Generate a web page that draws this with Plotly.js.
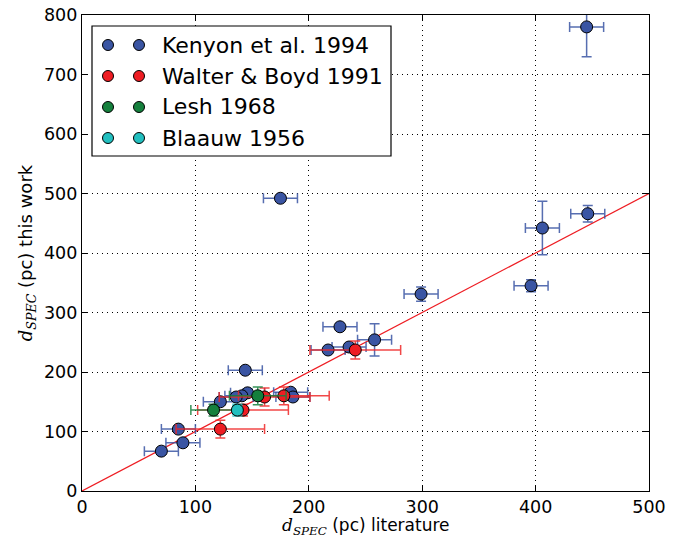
<!DOCTYPE html>
<html>
<head>
<meta charset="utf-8">
<script src="https://cdn.plot.ly/plotly-3.0.1.min.js"></script>
<style>html,body{margin:0;padding:0;background:#fff;}#chart{width:686px;height:538px;}</style>
</head>
<body>
<div id="chart"></div>
<script>
// Kenyon et al. 1994
const kenyonX    = [445, 175, 446, 406, 396, 299, 227.5, 258, 235.5, 217, 144, 184, 186, 146, 141, 136, 122, 85, 89, 70];
const kenyonY    = [780, 492, 466, 442, 345, 331, 276, 254, 242, 237, 203, 166, 158, 165, 160, 158, 150, 104, 81, 67];
const kenyonXerr = [15, 15, 15, 15, 15, 15, 15, 15, 15, 15, 15, 15, 15, 15, 15, 15, 15, 15, 15, 15];
const kenyonYerr = [50, 4, 14, 45, 10, 12, 4, 27, 5, 5, 5, 6, 6, 7, 6, 6, 5, 5, 5, 5];
// Walter & Boyd 1991
const walterX    = [122, 142, 161, 178, 241];
const walterY    = [104, 136, 158, 160, 237];
const walterXerr = [39, 40, 40, 40, 40];
const walterYerr = [15, 10, 15, 15, 15];
// Lesh 1968
const leshX    = [116, 155];
const leshY    = [136, 160];
const leshXerr = [20, 25];
const leshYerr = [10, 15];
// Blaauw 1956
const blaauwX    = [137];
const blaauwY    = [136];
const blaauwXerr = [4];
const blaauwYerr = [10];
// one-to-one line
const lineX = [0, 500];
const lineY = [0, 500];
// tick labels
const xTicks = [0, 100, 200, 300, 400, 500];
const yTicks = [0, 100, 200, 300, 400, 500, 600, 700, 800];
const xTitle = '<span style="font-family:DejaVu Serif"><i>d</i><sub><i>SPEC</i></sub></span> (pc) literature';
const yTitle = '<span style="font-family:DejaVu Serif"><i>d</i><sub><i>SPEC</i></sub></span> (pc) this work';

const seriesNames  = ['Kenyon et al. 1994', 'Walter & Boyd 1991', 'Lesh 1968', 'Blaauw 1956'];
const seriesColors = ['#3a55a3', '#ee1d23', '#15803d', '#22bfbf'];
const errColors    = ['rgba(58,85,163,0.85)', 'rgba(238,40,40,0.85)', 'rgba(21,128,61,0.85)', 'rgba(34,191,191,0.85)'];

function series(i, x, y, xe, ye) {
  return {
    type: 'scatter', mode: 'markers', name: seriesNames[i], x: x, y: y,
    marker: {color: seriesColors[i], size: 12, line: {color: '#000', width: 1}},
    error_x: {type: 'data', array: xe, color: errColors[i], thickness: 1.5, width: 5},
    error_y: {type: 'data', array: ye, color: errColors[i], thickness: 1.5, width: 5},
    showlegend: false, cliponaxis: true
  };
}

const traces = [
  {type: 'scatter', mode: 'lines', x: lineX, y: lineY, line: {color: '#ee1d23', width: 1.2}, showlegend: false, hoverinfo: 'skip'},
  series(0, kenyonX, kenyonY, kenyonXerr, kenyonYerr),
  series(1, walterX, walterY, walterXerr, walterYerr),
  series(2, leshX, leshY, leshXerr, leshYerr),
  series(3, blaauwX, blaauwY, blaauwXerr, blaauwYerr)
];

// custom legend (two markers per entry, like the reference)
const plotW = 567, plotH = 476;
const toPX = px => (px - 82) / plotW;
const toPY = py => (491 - py) / plotH;
const shapes = [{
  type: 'rect', xref: 'paper', yref: 'paper', layer: 'above',
  x0: toPX(92), x1: toPX(391), y0: toPY(156), y1: toPY(26),
  fillcolor: '#fff', line: {color: '#000', width: 1.2}
}];
const annotations = [];
const rowPY = [45, 76, 107, 138];
const r = 5.5;
seriesNames.forEach((name, i) => {
  [108, 139].forEach(cx => {
    shapes.push({
      type: 'circle', xref: 'paper', yref: 'paper', layer: 'above',
      x0: toPX(cx - r), x1: toPX(cx + r), y0: toPY(rowPY[i] + r), y1: toPY(rowPY[i] - r),
      fillcolor: seriesColors[i], line: {color: '#000', width: 1}
    });
  });
  annotations.push({
    xref: 'paper', yref: 'paper', x: toPX(160), y: toPY(rowPY[i]),
    xanchor: 'left', yanchor: 'middle', showarrow: false, text: name.replace('&', '&amp;'),
    font: {family: 'DejaVu Sans', size: 22, color: '#000'}
  });
});
// x-axis title as annotation, placed below the tick labels
annotations.push({
  xref: 'paper', yref: 'paper', x: 0.5, y: toPY(514), xanchor: 'center', yanchor: 'top',
  showarrow: false, text: xTitle, borderpad: 0, font: {family: 'DejaVu Sans', size: 17, color: '#000'}
});

const axisCommon = {
  showline: true, linecolor: '#000', linewidth: 1.2, mirror: 'ticks',
  ticks: 'inside', ticklen: 6, tickwidth: 1, tickcolor: '#000',
  showgrid: true, gridcolor: '#000', griddash: '1px,4px', gridwidth: 1,
  zeroline: false, tickfont: {family: 'DejaVu Sans', size: 17.5, color: '#000'}
};

const layout = {
  width: 686, height: 538,
  margin: {l: 82, r: 37, t: 15, b: 47, autoexpand: false},
  paper_bgcolor: '#fff', plot_bgcolor: '#fff',
  showlegend: false,
  xaxis: Object.assign({}, axisCommon, {
    range: [0, 500], tickvals: xTicks, ticktext: xTicks.map(String), automargin: false
  }),
  yaxis: Object.assign({}, axisCommon, {
    range: [0, 800], tickvals: yTicks, ticktext: yTicks.map(String), automargin: false,
    title: {text: yTitle, font: {family: 'DejaVu Sans', size: 18, color: '#000'}, standoff: 6}
  }),
  shapes: shapes,
  annotations: annotations
};

Plotly.newPlot('chart', traces, layout, {displayModeBar: false, staticPlot: true});
</script>
</body>
</html>
